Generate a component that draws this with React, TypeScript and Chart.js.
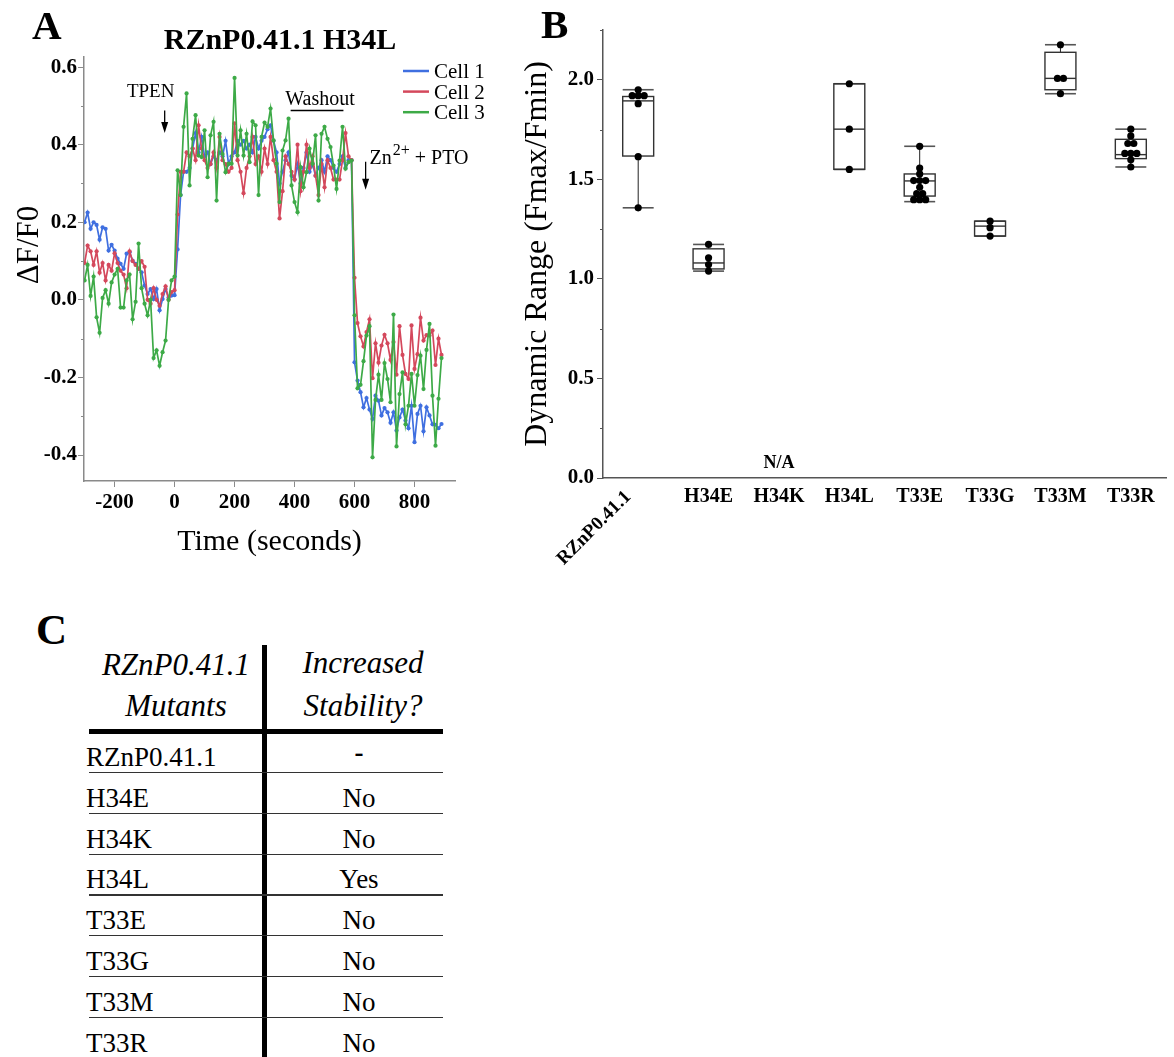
import React, { useEffect, useRef } from 'react';
import { Chart, registerables } from 'chart.js';

Chart.register(...registerables);

const SERIF = '"Liberation Serif", "Times New Roman", serif';

// ---------------- Panel A data ----------------
const titleA = 'RZnP0.41.1 H34L';
const seriesNames = ['Cell 1', 'Cell 2', 'Cell 3'];
const seriesColors = ['#3f6fe0', '#d4485c', '#3daa47'];

const timeSeconds = [
  -300, -290, -280, -270, -260, -250, -240, -230, -220, -210,
  -200, -190, -180, -170, -160, -150, -140, -130, -120, -110,
  -100, -90, -80, -70, -60, -50, -40, -30, -20, -10,
  0, 10, 20, 30, 40, 50, 60, 70, 80, 90,
  100, 110, 120, 130, 140, 150, 160, 170, 180, 190,
  200, 210, 220, 230, 240, 250, 260, 270, 280, 290,
  300, 310, 320, 330, 340, 350, 360, 370, 380, 390,
  400, 410, 420, 430, 440, 450, 460, 470, 480, 490,
  500, 510, 520, 530, 540, 550, 560, 570, 580, 590,
  600, 610, 620, 630, 640, 650, 660, 670, 680, 690,
  700, 710, 720, 730, 740, 750, 760, 770, 780, 790,
  800, 810, 820, 830, 840, 850, 860, 870, 880, 890,
];

const cell1 = [
  0.20, 0.225, 0.183, 0.20, 0.193, 0.155, 0.187, 0.183, 0.127, 0.142,
  0.127, 0.106, 0.093, 0.080, 0.119, 0.123, 0.101, 0.093, 0.080, 0.071,
  0.037, 0.015, 0.028, 0.002, 0.028, -0.027, 0.002, 0.028, 0.006, 0.011,
  0.012, 0.13, 0.27, 0.33, 0.33, 0.34, 0.39, 0.43, 0.38, 0.42,
  0.37, 0.38, 0.35, 0.37, 0.36, 0.38, 0.37, 0.41, 0.35, 0.37,
  0.38, 0.41, 0.40, 0.41, 0.39, 0.40, 0.38, 0.42, 0.39, 0.41,
  0.42, 0.44, 0.45, 0.41, 0.38, 0.30, 0.33, 0.36, 0.38, 0.32,
  0.31, 0.35, 0.30, 0.34, 0.38, 0.33, 0.35, 0.32, 0.34, 0.36,
  0.33, 0.37, 0.36, 0.34, 0.33, 0.35, 0.37, 0.34, 0.36, 0.36,
  -0.161, -0.208, -0.238, -0.277, -0.253, -0.283, -0.307, -0.247, -0.26, -0.298,
  -0.279, -0.29, -0.317, -0.29, -0.337, -0.303, -0.283, -0.311, -0.331, -0.273,
  -0.367, -0.294, -0.273, -0.339, -0.277, -0.298, -0.321, -0.322, -0.331, -0.32,
];

const cell2 = [
  0.095, 0.14, 0.125, 0.09, 0.125, 0.07, 0.095, 0.05, 0.09, 0.075,
  0.12, 0.095, 0.075, 0.065, 0.03, 0.125, 0.10, 0.09, 0.08, 0.10,
  0.085, 0.0, -0.01, 0.03, 0.0, -0.015, 0.015, 0.035, 0.0, 0.02,
  0.025, 0.22, 0.33, 0.33, 0.38, 0.37, 0.39, 0.36, 0.45, 0.39,
  0.36, 0.34, 0.35, 0.38, 0.34, 0.42, 0.36, 0.35, 0.33, 0.34,
  0.455, 0.36, 0.33, 0.275, 0.34, 0.37, 0.42, 0.35, 0.37, 0.33,
  0.39, 0.35, 0.42, 0.36, 0.33, 0.21, 0.28, 0.37, 0.35, 0.33,
  0.31, 0.40, 0.28, 0.33, 0.40, 0.34, 0.37, 0.32, 0.27, 0.35,
  0.29, 0.36, 0.34, 0.31, 0.31, 0.31, 0.36, 0.43, 0.37, 0.36,
  0.057, -0.06, -0.094, -0.12, -0.083, -0.05, -0.202, -0.112, -0.162, -0.118,
  -0.09, -0.112, -0.155, -0.109, -0.193, -0.068, -0.142, -0.191, -0.204, -0.066,
  -0.178, -0.14, -0.046, -0.105, -0.091, -0.092, -0.079, -0.168, -0.1, -0.142,
];

const cell3 = [
  0.05, 0.09, 0.01, 0.06, -0.045, -0.085, 0.005, 0.025, -0.01, 0.045,
  0.065, 0.08, -0.02, -0.02, 0.05, 0.065, -0.05, -0.005, 0.145, 0.03,
  -0.01, -0.04, 0.0, -0.15, -0.13, -0.17, -0.135, -0.105, 0.0, 0.05,
  0.06, 0.334, 0.27, 0.446, 0.532, 0.295, 0.415, 0.476, 0.372, 0.368,
  0.437, 0.316, 0.424, 0.459, 0.256, 0.428, 0.376, 0.329, 0.351, 0.351,
  0.572, 0.372, 0.437, 0.372, 0.428, 0.355, 0.46, 0.45, 0.27, 0.42,
  0.457, 0.446, 0.493, 0.411, 0.351, 0.252, 0.385, 0.411, 0.467, 0.295,
  0.252, 0.226, 0.342, 0.29, 0.329, 0.39, 0.351, 0.424, 0.256, 0.428,
  0.446, 0.415, 0.394, 0.346, 0.286, 0.359, 0.446, 0.338, 0.355, 0.359,
  -0.04, -0.228, -0.219, -0.158, -0.092, -0.068, -0.406, -0.258, -0.193, -0.258,
  -0.163, -0.204, -0.264, -0.038, -0.378, -0.243, -0.187, -0.321, -0.273, -0.191,
  -0.273, -0.194, -0.144, -0.23, -0.129, -0.062, -0.247, -0.376, -0.255, -0.15,
];

const xTickValuesA = [-200, 0, 200, 400, 600, 800];
const yTickValuesA = [-0.4, -0.2, 0, 0.2, 0.4, 0.6];
const yMinorTicksA = [-0.3, -0.1, 0.1, 0.3, 0.5];

// annotation anchors (data units)
const tpenArrow = { t: -33, from: 0.488, to: 0.43 };
const washout = { from: 387, to: 563, v: 0.488, textV: 0.503 };
const znArrow = { t: 637, from: 0.356, to: 0.284, textT: 650, textV: 0.351 };

// ---------------- Panel B data ----------------
const categories = ['RZnP0.41.1', 'H34E', 'H34K', 'H34L', 'T33E', 'T33G', 'T33M', 'T33R'];
const boxMin = [1.357, 1.039, null, 1.55, 1.388, 1.215, 1.93, 1.562];
const boxQ1 = [1.617, 1.05, null, 1.55, 1.416, 1.215, 1.95, 1.604];
const boxMedian = [1.894, 1.08, null, 1.752, 1.492, 1.265, 2.007, 1.624];
const boxQ3 = [1.916, 1.151, null, 1.98, 1.527, 1.29, 2.138, 1.701];
const boxMax = [1.95, 1.173, null, 1.98, 1.666, 1.29, 2.176, 1.752];

const rznpValues = [1.95, 1.92, 1.92, 1.92, 1.88, 1.614, 1.357];
const h34eValues = [1.173, 1.106, 1.072, 1.039];
const h34kValues: number[] = [];
const h34lValues = [1.98, 1.752, 1.55];
const t33eValues = [1.666, 1.557, 1.527, 1.494, 1.494, 1.494, 1.46, 1.428, 1.428, 1.398, 1.398, 1.398];
const t33gValues = [1.29, 1.257, 1.215];
const t33mValues = [2.176, 2.007, 2.007, 1.93];
const t33rValues = [1.752, 1.718, 1.68, 1.68, 1.63, 1.63, 1.63, 1.598, 1.562];
const valuesByCategory = [rznpValues, h34eValues, h34kValues, h34lValues, t33eValues, t33gValues, t33mValues, t33rValues];

const naLabel = { index: 2, v: 0.075, text: 'N/A' };
const yTickValuesB = [0, 0.5, 1, 1.5, 2];
const yMinorTicksB = [0.25, 0.75, 1.25, 1.75, 2.25];

// ---------------- Panel C data ----------------
const tableHeaderLeft = ['RZnP0.41.1', 'Mutants'];
const tableHeaderRight = ['Increased', 'Stability?'];
const tableMutants = ['RZnP0.41.1', 'H34E', 'H34K', 'H34L', 'T33E', 'T33G', 'T33M', 'T33R'];
const tableStability = ['-', 'No', 'No', 'Yes', 'No', 'No', 'No', 'No'];

// ---------------- helpers ----------------
function drawArrow(ctx: CanvasRenderingContext2D, x: number, y1: number, y2: number) {
  ctx.beginPath();
  ctx.moveTo(x, y1);
  ctx.lineTo(x, y2 - 8);
  ctx.lineWidth = 1.3;
  ctx.strokeStyle = '#000';
  ctx.stroke();
  ctx.beginPath();
  ctx.moveTo(x - 3.5, y2 - 11);
  ctx.lineTo(x + 3.5, y2 - 11);
  ctx.lineTo(x, y2);
  ctx.closePath();
  ctx.fillStyle = '#000';
  ctx.fill();
}

const annotA = {
  id: 'annotA',
  afterDraw(chart: any) {
    const { ctx, scales } = chart;
    const x = scales.x;
    const y = scales.y;
    ctx.save();
    ctx.strokeStyle = '#8a8a8a';
    ctx.lineWidth = 1;
    yMinorTicksA.forEach((v) => {
      const py = Math.round(y.getPixelForValue(v)) + 0.5;
      ctx.beginPath();
      ctx.moveTo(x.left - 3, py);
      ctx.lineTo(x.left, py);
      ctx.stroke();
    });
    ctx.fillStyle = '#000';
    ctx.font = `bold 41px ${SERIF}`;
    ctx.textAlign = 'left';
    ctx.textBaseline = 'alphabetic';
    ctx.fillText('A', 32, 39);
    ctx.font = `bold 30px ${SERIF}`;
    ctx.textAlign = 'center';
    ctx.fillText(titleA, 280, 49);
    ctx.save();
    ctx.translate(30, 245);
    ctx.rotate(-Math.PI / 2);
    ctx.font = `31px ${SERIF}`;
    ctx.textAlign = 'center';
    ctx.textBaseline = 'middle';
    ctx.fillText('\u0394F/F0', 0, 0);
    ctx.restore();
    seriesNames.forEach((name, i) => {
      const ly = 71 + i * 20.6;
      ctx.beginPath();
      ctx.moveTo(403, ly);
      ctx.lineTo(429, ly);
      ctx.lineWidth = 2.5;
      ctx.strokeStyle = seriesColors[i];
      ctx.stroke();
      ctx.font = `21px ${SERIF}`;
      ctx.textAlign = 'left';
      ctx.textBaseline = 'alphabetic';
      ctx.fillStyle = '#000';
      ctx.fillText(name, 434, ly + 7);
    });
    const tx = x.getPixelForValue(tpenArrow.t);
    ctx.font = `19px ${SERIF}`;
    ctx.textAlign = 'center';
    ctx.fillText('TPEN', tx - 14, y.getPixelForValue(0.524));
    drawArrow(ctx, tx, y.getPixelForValue(tpenArrow.from), y.getPixelForValue(tpenArrow.to));
    const wx1 = x.getPixelForValue(washout.from);
    const wx2 = x.getPixelForValue(washout.to);
    ctx.font = `20px ${SERIF}`;
    ctx.textAlign = 'center';
    ctx.fillStyle = '#000';
    ctx.fillText('Washout', (wx1 + wx2) / 2 + 3, y.getPixelForValue(washout.textV));
    ctx.beginPath();
    const wy = y.getPixelForValue(washout.v);
    ctx.moveTo(wx1, wy);
    ctx.lineTo(wx2, wy);
    ctx.lineWidth = 1.6;
    ctx.strokeStyle = '#000';
    ctx.stroke();
    const zx = x.getPixelForValue(znArrow.t);
    drawArrow(ctx, zx, y.getPixelForValue(znArrow.from), y.getPixelForValue(znArrow.to));
    let px = x.getPixelForValue(znArrow.textT);
    const by = y.getPixelForValue(znArrow.textV);
    ctx.textAlign = 'left';
    ctx.fillStyle = '#000';
    ctx.font = `20px ${SERIF}`;
    ctx.fillText('Zn', px, by);
    px += ctx.measureText('Zn').width + 1;
    ctx.font = `16px ${SERIF}`;
    ctx.fillText('2+', px, by - 9);
    px += ctx.measureText('2+').width;
    ctx.font = `20px ${SERIF}`;
    ctx.fillText(' + PTO', px, by);
    ctx.restore();
  },
};

function jitterPoints() {
  const dotSpread = 0.085;
  const out: { x: number; y: number }[] = [];
  valuesByCategory.forEach((vals, i) => {
    const counts = new Map<number, number>();
    vals.forEach((v) => counts.set(v, (counts.get(v) || 0) + 1));
    const seen = new Map<number, number>();
    vals.forEach((v) => {
      const n = counts.get(v) || 1;
      const k = seen.get(v) || 0;
      seen.set(v, k + 1);
      out.push({ x: i + (k - (n - 1) / 2) * dotSpread, y: v });
    });
  });
  return out;
}

const boxHalfWidth = 0.22;

const boxesB = {
  id: 'boxesB',
  beforeDatasetsDraw(chart: any) {
    const { ctx, scales } = chart;
    const x = scales.x;
    const y = scales.y;
    const line = (x1: number, y1: number, x2: number, y2: number) => {
      ctx.beginPath();
      ctx.moveTo(x1, y1);
      ctx.lineTo(x2, y2);
      ctx.stroke();
    };
    ctx.save();
    categories.forEach((_, i) => {
      const med = boxMedian[i];
      if (med == null) return;
      const xl = x.getPixelForValue(i - boxHalfWidth);
      const xr = x.getPixelForValue(i + boxHalfWidth);
      const xc = x.getPixelForValue(i);
      const py = (v: number) => y.getPixelForValue(v);
      ctx.strokeStyle = '#222';
      ctx.lineWidth = 1;
      line(xc, py(boxMax[i] as number), xc, py(boxQ3[i] as number));
      line(xc, py(boxQ1[i] as number), xc, py(boxMin[i] as number));
      ctx.strokeStyle = '#555';
      ctx.lineWidth = 1.6;
      line(xl, py(boxMax[i] as number), xr, py(boxMax[i] as number));
      line(xl, py(boxMin[i] as number), xr, py(boxMin[i] as number));
      ctx.strokeStyle = '#333';
      ctx.lineWidth = 1.4;
      const top = py(boxQ3[i] as number);
      const bot = py(boxQ1[i] as number);
      ctx.strokeRect(xl, top, xr - xl, bot - top);
      line(xl, py(med), xr, py(med));
    });
    ctx.restore();
  },
  afterDraw(chart: any) {
    const { ctx, scales } = chart;
    const x = scales.x;
    const y = scales.y;
    ctx.save();
    ctx.strokeStyle = '#555';
    ctx.lineWidth = 1;
    yMinorTicksB.forEach((v) => {
      const py = Math.round(y.getPixelForValue(v)) + 0.5;
      ctx.beginPath();
      ctx.moveTo(x.left - 3, py);
      ctx.lineTo(x.left, py);
      ctx.stroke();
    });
    ctx.fillStyle = '#000';
    ctx.font = `bold 41px ${SERIF}`;
    ctx.textAlign = 'left';
    ctx.textBaseline = 'alphabetic';
    ctx.fillText('B', 41, 38);
    ctx.font = `bold 18px ${SERIF}`;
    ctx.textAlign = 'center';
    ctx.textBaseline = 'middle';
    ctx.fillText(naLabel.text, x.getPixelForValue(naLabel.index), y.getPixelForValue(naLabel.v));
    ctx.save();
    ctx.translate(x.getPixelForValue(0) - 10, y.bottom + 16);
    ctx.rotate(-Math.PI / 4);
    ctx.font = `bold 19px ${SERIF}`;
    ctx.textAlign = 'right';
    ctx.textBaseline = 'middle';
    ctx.fillText(categories[0], 0, 0);
    ctx.restore();
    ctx.restore();
  },
};

function PanelA() {
  const ref = useRef<HTMLCanvasElement>(null);
  useEffect(() => {
    const series = [cell1, cell2, cell3];
    const orders = [3, 2, 1];
    const chart = new Chart(ref.current as HTMLCanvasElement, {
      type: 'line',
      data: {
        datasets: series.map((vals, s) => ({
          label: seriesNames[s],
          data: timeSeconds.map((t, i) => ({ x: t, y: vals[i] })),
          borderColor: seriesColors[s],
          backgroundColor: seriesColors[s],
          borderWidth: 1.7,
          pointRadius: 2.1,
          pointBorderWidth: 0,
          pointHoverRadius: 2,
          tension: 0,
          order: orders[s],
        })),
      },
      options: {
        responsive: false,
        animation: false,
        events: [],
        layout: { padding: { top: 57, right: 45, left: 0, bottom: 0 } },
        plugins: { legend: { display: false }, tooltip: { enabled: false }, title: { display: false } },
        scales: {
          x: {
            type: 'linear',
            min: -302,
            max: 935,
            afterBuildTicks: (s: any) => {
              s.ticks = xTickValuesA.map((v) => ({ value: v }));
            },
            afterFit: (s: any) => {
              s.height = 99;
            },
            ticks: {
              autoSkip: false,
              maxRotation: 0,
              padding: 3,
              color: '#000',
              font: { family: SERIF, size: 21, weight: 'bold' },
              callback: (v: any) => String(v),
            },
            grid: { display: true, drawOnChartArea: false, drawTicks: true, tickLength: 6, color: '#8a8a8a', tickColor: '#8a8a8a' },
            border: { display: true, color: '#8a8a8a', width: 1.5 },
            title: {
              display: true,
              text: 'Time (seconds)',
              color: '#000',
              font: { family: SERIF, size: 30, weight: 'normal' },
              padding: { top: 0, bottom: 20 },
            },
          },
          y: {
            type: 'linear',
            min: -0.467,
            max: 0.626,
            afterBuildTicks: (s: any) => {
              s.ticks = yTickValuesA.map((v) => ({ value: v }));
            },
            afterFit: (s: any) => {
              s.width = 84;
            },
            ticks: {
              padding: 1,
              color: '#000',
              font: { family: SERIF, size: 21, weight: 'bold' },
              callback: (v: any) => Number(v).toFixed(1),
            },
            grid: { display: true, drawOnChartArea: false, drawTicks: true, tickLength: 6, color: '#8a8a8a', tickColor: '#8a8a8a' },
            border: { display: true, color: '#8a8a8a', width: 1.5 },
          },
        },
      } as any,
      plugins: [annotA],
    });
    return () => chart.destroy();
  }, []);
  return (
    <canvas
      ref={ref}
      width={500}
      height={580}
      style={{ position: 'absolute', left: 0, top: 0, width: 500, height: 580 }}
    />
  );
}

function PanelB() {
  const ref = useRef<HTMLCanvasElement>(null);
  useEffect(() => {
    const chart = new Chart(ref.current as HTMLCanvasElement, {
      type: 'scatter',
      data: {
        datasets: [
          {
            label: 'Dynamic range',
            data: jitterPoints(),
            backgroundColor: '#000',
            borderColor: '#000',
            pointRadius: 3.6,
            pointBorderWidth: 0,
            pointHoverRadius: 3.6,
          },
        ],
      },
      options: {
        responsive: false,
        animation: false,
        events: [],
        layout: { padding: { top: 30, right: 8, left: 0, bottom: 0 } },
        plugins: { legend: { display: false }, tooltip: { enabled: false }, title: { display: false } },
        scales: {
          x: {
            type: 'linear',
            min: -0.5,
            max: 7.5,
            afterBuildTicks: (s: any) => {
              s.ticks = categories.map((_, i) => ({ value: i }));
            },
            afterFit: (s: any) => {
              s.height = 122;
            },
            ticks: {
              autoSkip: false,
              maxRotation: 0,
              padding: 7,
              color: '#000',
              font: { family: SERIF, size: 20, weight: 'bold' },
              callback: (_v: any, idx: number) => (idx === 0 ? '' : categories[idx]),
            },
            grid: { display: false, drawTicks: false },
            border: { display: true, color: '#555', width: 1.5 },
          },
          y: {
            type: 'linear',
            min: 0,
            max: 2.25,
            afterBuildTicks: (s: any) => {
              s.ticks = yTickValuesB.map((v) => ({ value: v }));
            },
            afterFit: (s: any) => {
              s.width = 103;
            },
            ticks: {
              padding: 3,
              color: '#000',
              font: { family: SERIF, size: 21, weight: 'bold' },
              callback: (v: any) => Number(v).toFixed(1),
            },
            grid: { display: true, drawOnChartArea: false, drawTicks: true, tickLength: 6, color: '#555', tickColor: '#555' },
            border: { display: true, color: '#555', width: 1.5 },
            title: {
              display: true,
              text: 'Dynamic Range (Fmax/Fmin)',
              color: '#000',
              font: { family: SERIF, size: 32, weight: 'normal' },
              padding: { top: 18, bottom: 0 },
            },
          },
        },
      } as any,
      plugins: [boxesB],
    });
    return () => chart.destroy();
  }, []);
  return (
    <canvas
      ref={ref}
      width={674}
      height={600}
      style={{ position: 'absolute', left: 500, top: 0, width: 674, height: 600 }}
    />
  );
}

function PanelC() {
  const rowPitch = 40.8;
  const firstRowCenter = 757;
  const firstLineY = 772;
  const rowFont: React.CSSProperties = { fontFamily: SERIF, fontSize: 27, color: '#000', position: 'absolute', height: 30, lineHeight: '30px', whiteSpace: 'nowrap' };
  const headFont: React.CSSProperties = { fontFamily: SERIF, fontSize: 31, fontStyle: 'italic', color: '#000', position: 'absolute', height: 34, lineHeight: '34px', whiteSpace: 'nowrap', textAlign: 'center' };
  return (
    <>
      <div style={{ position: 'absolute', left: 36, top: 605, fontFamily: SERIF, fontWeight: 'bold', fontSize: 43, lineHeight: '50px', color: '#000' }}>C</div>
      <div style={{ ...headFont, left: 94, top: 648, width: 164 }}>{tableHeaderLeft[0]}</div>
      <div style={{ ...headFont, left: 94, top: 689, width: 164 }}>{tableHeaderLeft[1]}</div>
      <div style={{ ...headFont, left: 283, top: 646, width: 160 }}>{tableHeaderRight[0]}</div>
      <div style={{ ...headFont, left: 283, top: 689, width: 160 }}>{tableHeaderRight[1]}</div>
      <div style={{ position: 'absolute', left: 262, top: 645, width: 5, height: 412, background: '#000' }} />
      <div style={{ position: 'absolute', left: 89, top: 729, width: 354, height: 5, background: '#000' }} />
      {tableMutants.slice(0, 7).map((_, i) => (
        <div key={'l' + i} style={{ position: 'absolute', left: 89, top: firstLineY + i * rowPitch, width: 354, height: 1.3, background: '#333' }} />
      ))}
      {tableMutants.map((m, i) => (
        <div key={'m' + i} style={{ ...rowFont, left: 86, top: firstRowCenter + i * rowPitch - 15 }}>{m}</div>
      ))}
      {tableStability.map((s, i) => (
        <div key={'s' + i} style={{ ...rowFont, left: 299, width: 120, textAlign: 'center', top: firstRowCenter + i * rowPitch - 15 - (i === 0 ? 5 : 0), fontWeight: i === 0 ? 'bold' : 'normal' }}>{s}</div>
      ))}
    </>
  );
}

export default function App() {
  return (
    <div style={{ position: 'absolute', left: 0, top: 0, width: 1174, height: 1057, background: '#fff', overflow: 'hidden' }}>
      <PanelA />
      <PanelB />
      <PanelC />
    </div>
  );
}
